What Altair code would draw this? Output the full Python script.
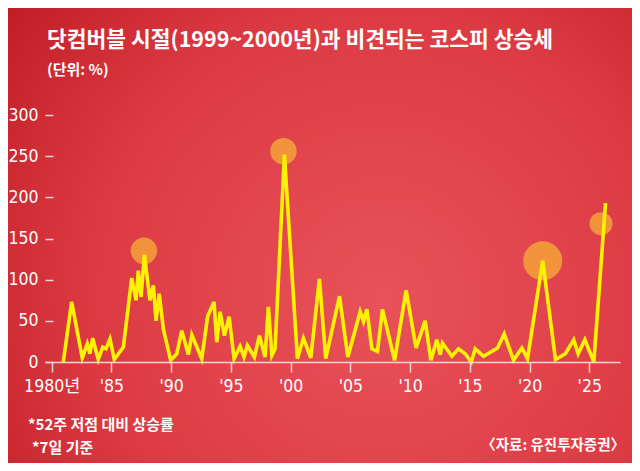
import altair as alt
import pandas as pd

# ---- data ----
YEARS = [1980.97, 1981.67, 1982.56, 1982.98, 1983.2, 1983.43, 1983.9, 1984.27, 1984.55, 1984.88,
         1985.24, 1986.0, 1986.7, 1987.06, 1987.25, 1987.48, 1987.76, 1988.23, 1988.51, 1988.74,
         1989.0, 1989.35, 1989.96, 1990.47, 1990.89, 1991.44, 1991.73, 1992.56, 1993.06, 1993.59,
         1993.82, 1994.1, 1994.46, 1994.85, 1995.27, 1995.77, 1996.1, 1996.38, 1996.97, 1997.39,
         1997.86, 1998.14, 1998.43, 1998.7, 1999.48, 2000.57, 2001.07, 2001.69, 2002.41, 2002.94,
         2004.09, 2004.79, 2005.82, 2006.1, 2006.38, 2006.8, 2007.27, 2007.69, 2008.7, 2009.67,
         2010.5, 2011.26, 2011.74, 2012.24, 2012.52, 2012.71, 2013.5, 2014.05, 2014.61, 2015.12,
         2015.45, 2016.15, 2017.32, 2017.88, 2018.66, 2019.36, 2019.83, 2021.1, 2022.17, 2023.0,
         2023.7, 2024.07, 2024.63, 2025.38, 2026.36]
VALUES = [0, 73, 5, 22, 10, 29, 3, 18, 16, 28,
          3, 18, 102, 75, 111, 79, 130, 75, 93, 50,
          83, 40, 2, 10, 38, 9, 33, 4, 56, 73,
          24, 61, 32, 55, 4, 19, 6, 20, 6, 32,
          6, 67, 8, 16, 252, 4, 29, 5, 101, 4,
          80, 6, 61, 49, 64, 16, 13, 64, 2, 87,
          17, 50, 2, 27, 9, 23, 7, 16, 10, 0,
          16, 7, 17, 34, 2, 17, 4, 123, 3, 10,
          27, 10, 27, 0, 193]

HIGHLIGHT_YEARS = [1987.72, 1999.4, 2021.1, 2025.98]
HIGHLIGHT_VALUES = [135, 256, 123, 168]

X_TICKS = [1980, 1985, 1990, 1995, 2000, 2005, 2010, 2015, 2020, 2025]
Y_TICKS = [0, 50, 100, 150, 200, 250, 300]

TITLE = "닷컴버블 시절(1999~2000년)과 비견되는 코스피 상승세"
SUBTITLE = "(단위: %)"
NOTE1 = "*52주 저점 대비 상승률"
NOTE2 = "*7일 기준"
SOURCE = "〈자료: 유진투자증권〉"

# ---- styles ----
HIGHLIGHT_SIZES = [700, 700, 1520, 530]
W, H = 575, 247
PAD = {"left": 37, "top": 107, "right": 12, "bottom": 101}
CJK = "Noto Sans CJK KR"
NUMFONT = "Liberation Sans Narrow, Arial Narrow, DejaVu Sans Condensed, Noto Sans CJK KR, sans-serif"
AXIS_COLOR = "#F6D2D2"

line_df = pd.DataFrame({"year": YEARS, "value": VALUES})
hl_df = pd.DataFrame({"year": HIGHLIGHT_YEARS, "value": HIGHLIGHT_VALUES, "size": HIGHLIGHT_SIZES})
one = pd.DataFrame({"a": [0]})

x_enc = alt.X(
    "year:Q",
    scale=alt.Scale(domain=[1979.44, 2027.57], nice=False, zero=False),
    axis=alt.Axis(
        values=X_TICKS, title=None, grid=False,
        labelExpr="datum.value == 1980 ? '1980년' : \"'\" + substring(toString(datum.value), 2, 4)",
        labelFont=NUMFONT, labelFontSize=17.5, labelColor="white",
        labelPadding=5, tickSize=10, tickColor=AXIS_COLOR, tickWidth=1.5,
        domainColor=AXIS_COLOR, domainWidth=1.5, zindex=1,
    ),
)
y_enc = alt.Y(
    "value:Q",
    scale=alt.Scale(domain=[0, 300], nice=False),
    axis=alt.Axis(
        values=Y_TICKS, title=None, grid=False, domain=False, offset=-8,
        labelFont=NUMFONT, labelFontSize=17.5, labelColor="white",
        labelPadding=7, tickSize=8, tickColor=AXIS_COLOR, tickWidth=1.5, zindex=1,
    ),
)

bg = alt.Chart(one).mark_rect(
    fill=alt.Gradient(
        gradient="radial",
        stops=[
            alt.GradientStop(color="#E8525A", offset=0),
            alt.GradientStop(color="#DC3A43", offset=0.55),
            alt.GradientStop(color="#B8141E", offset=1),
        ],
        x1=0.6, y1=0.6, r1=0, x2=0.6, y2=0.6, r2=0.85,
    )
).encode(
    x=alt.value(-PAD["left"]), x2=alt.value(W + PAD["right"]),
    y=alt.value(-PAD["top"]), y2=alt.value(H + PAD["bottom"]),
)

circles = alt.Chart(hl_df).mark_circle(color="#F4A23A", opacity=0.85).encode(
    x=x_enc, y=y_enc, size=alt.Size("size:Q", scale=None, legend=None)
)

line = alt.Chart(line_df).mark_line(color="#FFF200", strokeWidth=3.6, strokeJoin="miter").encode(
    x=x_enc, y=y_enc
)

def txt(s, x, y, size, weight="normal", align="left"):
    return alt.Chart(one).mark_text(
        text=s, font=CJK, fontSize=size, fontWeight=weight, color="white",
        align=align, baseline="middle",
    ).encode(x=alt.value(x), y=alt.value(y))

chart = alt.layer(
    bg,
    circles,
    line,
    txt(TITLE, 2, -74, 21.5, "bold"),
    txt(SUBTITLE, 2, -45, 15, "bold"),
    txt(NOTE1, -17, 310, 15, "bold"),
    txt(NOTE2, -13, 333, 15, "bold"),
    txt(SOURCE, 580, 331, 14.5, "bold", "right"),
).properties(
    width=W, height=H,
    autosize=alt.AutoSizeParams(type="none"),
    padding=PAD,
    background="#D63440",
).configure_view(stroke=None)

chart.save("out.html", embed_options={"renderer": "svg", "actions": False})
